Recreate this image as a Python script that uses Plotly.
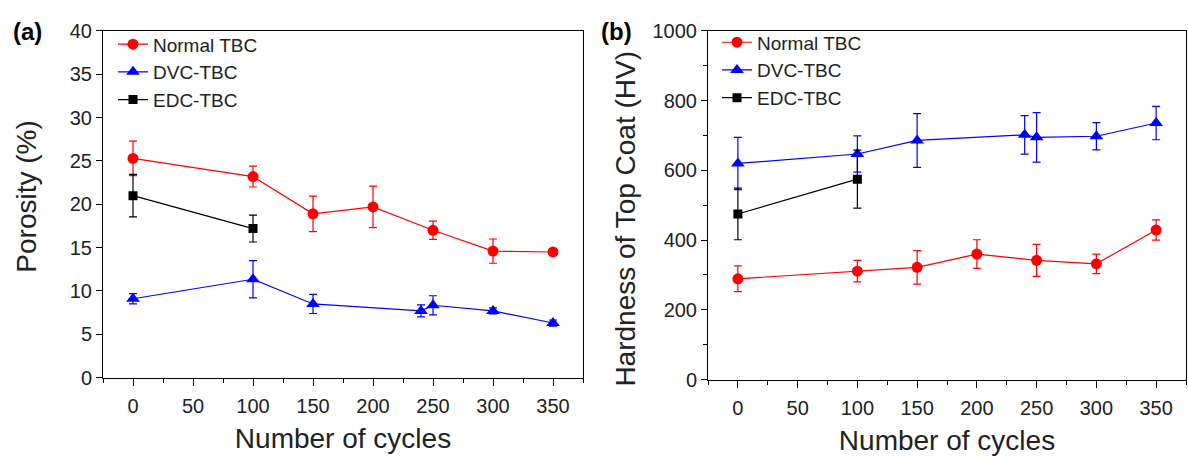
import plotly.graph_objects as go

# ---------------- data ----------------
cycles_normal = [0, 100, 150, 200, 250, 300, 350]
cycles_dvc = [0, 100, 150, 240, 250, 300, 350]
cycles_edc = [0, 100]

series_names = ["Normal TBC", "DVC-TBC", "EDC-TBC"]

por_normal = [25.3, 23.2, 18.9, 19.7, 17.0, 14.6, 14.5]
por_normal_err = [2.0, 1.2, 2.05, 2.4, 1.05, 1.4, 0.3]
por_dvc = [9.1, 11.35, 8.5, 7.7, 8.35, 7.7, 6.3]
por_dvc_err = [0.6, 2.15, 1.1, 0.7, 1.1, 0.35, 0.35]
por_edc = [21.0, 17.2]
por_edc_err = [2.45, 1.55]

hv_normal = [289, 311, 322, 360, 342, 332, 429]
hv_normal_err = [37, 31, 48, 41, 46, 28, 29]
hv_dvc = [620, 647, 686, 702, 695, 698, 736]
hv_dvc_err = [75, 52, 77, 55, 71, 39, 48]
hv_edc = [475, 575]
hv_edc_err = [74, 83]

x_ticks = [0, 50, 100, 150, 200, 250, 300, 350]

# ---------------- styles ----------------
W, H = 1188, 461
FONT = "Arial, Liberation Sans, sans-serif"
TXT = "#222222"
colors = ["#FF0000", "#0000FF", "#000000"]
symbols = ["circle", "triangle-up", "square"]
msizes = [11, 12, 9]

fig = go.Figure()

panels = [
    ("x", "y", "legend", [(cycles_normal, por_normal, por_normal_err),
                          (cycles_dvc, por_dvc, por_dvc_err),
                          (cycles_edc, por_edc, por_edc_err)]),
    ("x2", "y2", "legend2", [(cycles_normal, hv_normal, hv_normal_err),
                             (cycles_dvc, hv_dvc, hv_dvc_err),
                             (cycles_edc, hv_edc, hv_edc_err)]),
]

for xa, ya, lg, sets in panels:
    for i, (xs, ys, es) in enumerate(sets):
        fig.add_trace(go.Scatter(
            x=xs, y=ys, xaxis=xa, yaxis=ya, legend=lg,
            name=series_names[i], mode="lines+markers",
            line=dict(color=colors[i], width=1.2),
            marker=dict(symbol=symbols[i], size=msizes[i], color=colors[i],
                        line=dict(width=0)),
            error_y=dict(type="data", array=es, visible=True, color=colors[i],
                         thickness=1.2, width=4),
        ))

axis_common = dict(
    showline=True, mirror=True, linecolor="#000000", linewidth=1,
    showgrid=False, zeroline=False, ticks="outside", tickcolor="#000000",
    tickfont=dict(family=FONT, size=20, color=TXT),
    title_font=dict(family=FONT, size=28, color=TXT),
)

xaxis_common = dict(axis_common, range=[-25, 375], tickvals=x_ticks, ticklen=7,
                    ticklabelstandoff=3,
                    minor=dict(ticks="outside", dtick=25, tick0=0, ticklen=4,
                               tickcolor="#000000"),
                    title_text="Number of cycles", title_standoff=12)

legend_common = dict(xanchor="left", yanchor="top", bgcolor="rgba(0,0,0,0)",
                     borderwidth=0, font=dict(family=FONT, size=19, color=TXT),
                     tracegroupgap=0)

fig.update_layout(
    width=W, height=H,
    margin=dict(l=0, r=0, t=0, b=0),
    paper_bgcolor="white", plot_bgcolor="white",
    font=dict(family=FONT, color=TXT),
    xaxis=dict(xaxis_common, domain=[103 / W, 583 / W], anchor="y"),
    xaxis2=dict(xaxis_common, domain=[708 / W, 1186 / W], anchor="y2"),
    yaxis=dict(axis_common, domain=[1 - 385 / H, 1 - 21 / H], range=[0, 40],
               dtick=5, tick0=0, ticklen=6, anchor="x"),
    yaxis2=dict(axis_common, domain=[1 - 387 / H, 1 - 21 / H], range=[0, 1000],
                dtick=200, tick0=0, ticklen=6, anchor="x2",
                minor=dict(ticks="outside", dtick=100, ticklen=4, tickcolor="#000000")),
    legend=dict(legend_common, x=113 / W, y=1 - 15 / H),
    legend2=dict(legend_common, x=717 / W, y=1 - 13 / H),
    showlegend=True,
    annotations=[
        dict(text="<b>(a)</b>", x=27 / W, y=1 - 22 / H, xref="paper", yref="paper",
             xanchor="center", yanchor="middle", showarrow=False,
             font=dict(family=FONT, size=24, color="#000000")),
        dict(text="<b>(b)</b>", x=616 / W, y=1 - 22 / H, xref="paper", yref="paper",
             xanchor="center", yanchor="middle", showarrow=False,
             font=dict(family=FONT, size=24, color="#000000")),
        dict(text="Porosity (%)", textangle=-90, x=27 / W, y=1 - 195 / H,
             xref="paper", yref="paper", xanchor="center", yanchor="middle",
             showarrow=False, font=dict(family=FONT, size=28, color=TXT)),
        dict(text="Hardness of Top Coat (HV)", textangle=-90, x=626 / W, y=1 - 218 / H,
             xref="paper", yref="paper", xanchor="center", yanchor="middle",
             showarrow=False, font=dict(family=FONT, size=28, color=TXT)),
    ],
)

fig.write_html("out.html")
